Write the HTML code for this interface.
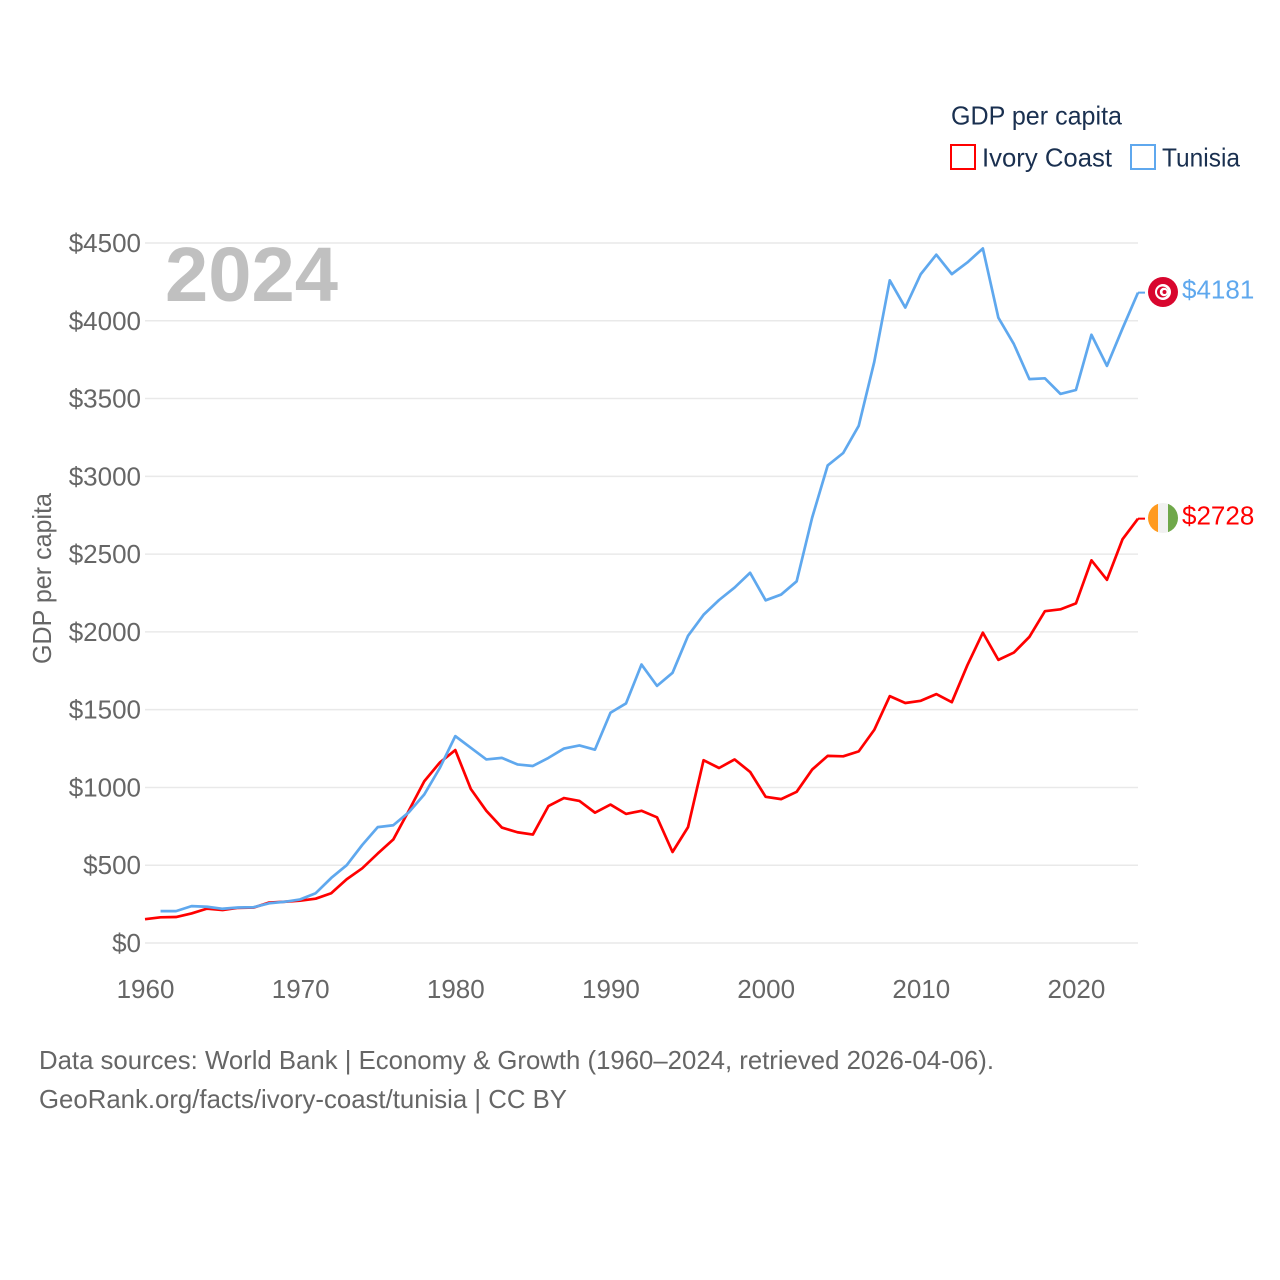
<!DOCTYPE html>
<html lang="en">
<head>
<meta charset="utf-8">
<title>GDP per capita: Ivory Coast and Tunisia</title>
<style>
html,body{margin:0;padding:0;background:#fff;}
svg{display:block;font-family:"Liberation Sans",sans-serif;}
</style>
</head>
<body>
<svg id="chart" xmlns="http://www.w3.org/2000/svg" width="1280" height="1280" viewBox="0 0 1280 1280">
  <rect width="1280" height="1280" fill="#fff"/>
  <g id="grid"></g>
  <g id="yticks"></g>
  <g id="xticks"></g>
  <text transform="translate(51,578.5) rotate(-90)" text-anchor="middle" font-size="26" fill="#666" textLength="171" lengthAdjust="spacingAndGlyphs">GDP per capita</text>
  <text x="165" y="301" font-size="77" font-weight="bold" fill="#c0c0c0" textLength="173" lengthAdjust="spacingAndGlyphs">2024</text>
  <g id="series"></g>

  <text x="951" y="124.5" font-size="26" fill="#1a3050" textLength="171" lengthAdjust="spacingAndGlyphs">GDP per capita</text>
  <rect x="951" y="145" width="24" height="24" fill="none" stroke="#ff0000" stroke-width="2"/>
  <text x="982" y="166.5" font-size="26" fill="#1a3050" textLength="130" lengthAdjust="spacingAndGlyphs">Ivory Coast</text>
  <rect x="1131" y="145" width="24" height="24" fill="none" stroke="#5fa8ee" stroke-width="2"/>
  <text x="1162" y="166.5" font-size="26" fill="#1a3050" textLength="78" lengthAdjust="spacingAndGlyphs">Tunisia</text>

  <defs>
    <clipPath id="ivory-clip"><circle cx="1163" cy="518" r="15"/></clipPath>
  </defs>
  <g>
    <circle cx="1163" cy="292" r="15" fill="#d8062e"/>
    <circle cx="1163" cy="292" r="8" fill="#fff"/>
    <circle cx="1162.5" cy="292" r="5.5" fill="#d8062e"/>
    <circle cx="1164" cy="292" r="4.2" fill="#fff"/>
    <circle cx="1164.5" cy="292" r="2" fill="#d8062e"/>
  </g>
  <g clip-path="url(#ivory-clip)">
    <rect x="1148" y="503" width="10" height="30" fill="#ff9a1f"/>
    <rect x="1158" y="503" width="10" height="30" fill="#f1f1f1"/>
    <rect x="1168" y="503" width="10" height="30" fill="#6fa84a"/>
  </g>

  <text x="39" y="1069" font-size="26" fill="#666" textLength="955" lengthAdjust="spacingAndGlyphs">Data sources: World Bank | Economy &amp; Growth (1960–2024, retrieved 2026-04-06).</text>
  <text x="39" y="1108" font-size="26" fill="#666" textLength="528" lengthAdjust="spacingAndGlyphs">GeoRank.org/facts/ivory-coast/tunisia | CC BY</text>
</svg>
<script>
const yTickValues = [0, 500, 1000, 1500, 2000, 2500, 3000, 3500, 4000, 4500];
const xTickYears = [1960, 1970, 1980, 1990, 2000, 2010, 2020];
const ivoryStartYear = 1960;
const ivoryValues = [153,165,167,190,221,212,226,228,260,265,272,285,320,410,480,575,665,850,1040,1160,1240,990,850,742,712,697,880,932,913,838,890,830,850,808,585,745,1175,1125,1180,1100,940,925,972,1115,1203,1200,1232,1370,1587,1543,1557,1600,1548,1785,1995,1820,1867,1968,2133,2145,2183,2460,2335,2595,2728];
const tunisiaStartYear = 1961;
const tunisiaValues = [205,205,237,233,220,228,230,255,265,280,320,418,500,630,745,757,840,955,1125,1330,1255,1180,1190,1148,1138,1190,1250,1270,1243,1480,1540,1790,1653,1737,1975,2110,2205,2285,2380,2203,2240,2325,2735,3070,3150,3325,3735,4260,4085,4300,4425,4300,4375,4465,4020,3850,3625,3630,3530,3555,3910,3710,3950,4181];

const NS = 'http://www.w3.org/2000/svg';
function xScale(year) { return 145 + (year - 1960) * (1138 - 145) / (2024 - 1960); }
function yScale(value) { return 943 - value * 700 / 4500; }
function make(tag, attrs, parent) {
  const el = document.createElementNS(NS, tag);
  for (const k in attrs) el.setAttribute(k, attrs[k]);
  parent.appendChild(el);
  return el;
}

const grid = document.getElementById('grid');
const yticks = document.getElementById('yticks');
yTickValues.forEach(function (v) {
  const line = make('line', {x1: 145, x2: 1138, y1: yScale(v), y2: yScale(v), stroke: '#e9e9e9', 'stroke-width': 1.5}, grid);
  
  
  const label = make('text', {x: 141, y: yScale(v) + 9, 'text-anchor': 'end', 'font-size': 26, fill: '#666'}, yticks);
  label.textContent = '$' + v;
  
  
});

const xticks = document.getElementById('xticks');
xTickYears.forEach(function (y) {
  const label = make('text', {x: xScale(y) + 0.5, y: 998, 'text-anchor': 'middle', 'font-size': 26, fill: '#666'}, xticks);
  label.textContent = y;
  
  
});

const seriesGroup = document.getElementById('series');
function drawSeries(name, values, startYear, color, labelY) {
  const pts = values.map(function (v, i) {
    return xScale(startYear + i).toFixed(2) + ',' + yScale(v).toFixed(2);
  });
  const line = make('polyline', {points: pts.join(' '), fill: 'none', stroke: color, 'stroke-width': 2.7, 'stroke-linejoin': 'round'}, seriesGroup);
  
  
  const lastYear = startYear + values.length - 1;
  const lastValue = values[values.length - 1];
  const connector = make('line', {x1: xScale(lastYear), x2: xScale(lastYear) + 7, y1: yScale(lastValue), y2: yScale(lastValue), stroke: color, 'stroke-width': 2}, seriesGroup);
  
  
  const label = make('text', {x: 1182, y: labelY, 'font-size': 26, fill: color}, seriesGroup);
  label.textContent = '$' + lastValue;
  
  
}
drawSeries('ivory-coast', ivoryValues, ivoryStartYear, '#ff0000', 524.5);
drawSeries('tunisia', tunisiaValues, tunisiaStartYear, '#5fa8ee', 298.5);
</script>
</body>
</html>
